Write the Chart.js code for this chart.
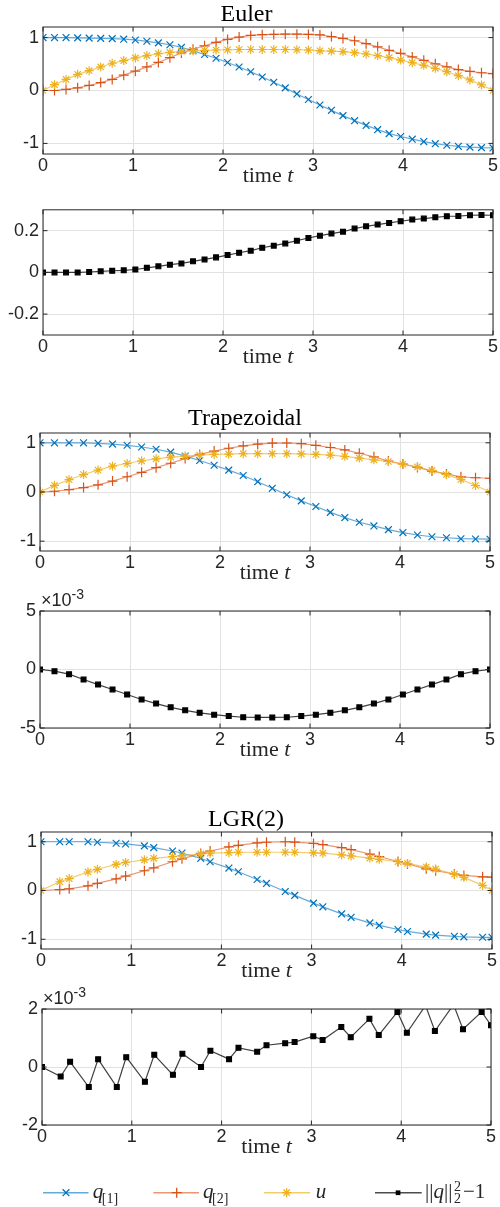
<!DOCTYPE html>
<html>
<head>
<meta charset="utf-8">
<title>Euler / Trapezoidal / LGR(2)</title>
<script src="https://cdn.jsdelivr.net/npm/chart.js@4.4.1/dist/chart.umd.min.js"></script>
<style>
  html,body{margin:0;padding:0;background:#fff;}
  #fig{position:relative;width:500px;height:1207px;overflow:hidden;}
  .pane{position:absolute;left:0;}
  #legend{position:absolute;left:0;top:1178px;}
  #legend text{fill:#262626;font-family:"Liberation Serif",serif;}
</style>
</head>
<body>
<div id="fig">
  <canvas id="euler" class="pane"></canvas>
  <canvas id="eulerErr" class="pane"></canvas>
  <canvas id="trap" class="pane"></canvas>
  <canvas id="trapErr" class="pane"></canvas>
  <canvas id="lgr" class="pane"></canvas>
  <canvas id="lgrErr" class="pane"></canvas>
  <svg id="legend" width="500" height="29">
    <line x1="43" y1="14.7" x2="88.5" y2="14.7" stroke="rgba(0,114,189,0.6)" stroke-width="1.4"/>
    <path d="M62.6 11.3L69.4 18.1M69.4 11.3L62.6 18.1" stroke="#0072BD" stroke-width="1.3"/>
    <text x="92.7" y="19.5" font-size="21" font-style="italic">q</text>
    <text x="101.8" y="24.5" font-size="14">[1]</text>

    <line x1="153.3" y1="14.7" x2="199" y2="14.7" stroke="rgba(217,83,25,0.6)" stroke-width="1.4"/>
    <path d="M176.7 9.7V19.7M171.7 14.7H181.7" stroke="#D95319" stroke-width="1.3"/>
    <text x="203" y="19.5" font-size="21" font-style="italic">q</text>
    <text x="212.1" y="24.5" font-size="14">[2]</text>

    <line x1="264" y1="14.7" x2="310" y2="14.7" stroke="rgba(237,177,32,0.65)" stroke-width="1.4"/>
    <path d="M286.7 10.2V19.2M282.2 14.7H291.2M283.5 11.5L289.9 17.9M289.9 11.5L283.5 17.9" stroke="#EDB120" stroke-width="1.3"/>
    <text x="315.7" y="19.5" font-size="21" font-style="italic">u</text>

    <line x1="375" y1="14.7" x2="421.7" y2="14.7" stroke="rgba(0,0,0,0.7)" stroke-width="1.4"/>
    <rect x="395.7" y="12.4" width="4.7" height="4.7" fill="#000"/>
    <text x="425" y="19.5" font-size="21">||<tspan font-style="italic">q</tspan>||</text>
    <text x="454" y="12.5" font-size="14">2</text>
    <text x="454" y="24.5" font-size="14">2</text>
    <text x="463" y="19.5" font-size="21">&#8722;1</text>
  </svg>
</div>
<script>
// ---- values ----
const xTicks = [0, 1, 2, 3, 4, 5];
const stateTicks = [-1, 0, 1];
const eulerErrTicks = [-0.2, 0, 0.2];
const trapErrTicks = [-5e-3, 0, 5e-3];
const lgrErrTicks = [-2e-3, 0, 2e-3];

// Euler, 40 grid points
const tEuler = [0, 0.128, 0.256, 0.385, 0.513, 0.641, 0.769, 0.897, 1.026, 1.154,
  1.282, 1.41, 1.538, 1.667, 1.795, 1.923, 2.051, 2.179, 2.308, 2.436,
  2.564, 2.692, 2.821, 2.949, 3.077, 3.205, 3.333, 3.462, 3.59, 3.718,
  3.846, 3.974, 4.103, 4.231, 4.359, 4.487, 4.615, 4.744, 4.872, 5];
const q1Euler = [1, 1, 1, 0.995, 0.99, 0.985, 0.98, 0.97, 0.955, 0.93,
  0.9, 0.865, 0.815, 0.75, 0.68, 0.61, 0.53, 0.445, 0.355, 0.255,
  0.155, 0.05, -0.065, -0.17, -0.275, -0.375, -0.475, -0.57, -0.66, -0.74,
  -0.815, -0.87, -0.92, -0.965, -1.005, -1.035, -1.055, -1.07, -1.08, -1.085];
const q2Euler = [0, 0, 0.02, 0.05, 0.095, 0.15, 0.21, 0.29, 0.365, 0.445,
  0.53, 0.62, 0.71, 0.78, 0.845, 0.91, 0.965, 1.01, 1.04, 1.055,
  1.06, 1.065, 1.065, 1.06, 1.05, 1.02, 0.985, 0.94, 0.885, 0.825,
  0.76, 0.7, 0.635, 0.57, 0.505, 0.445, 0.395, 0.36, 0.335, 0.32];
const uEuler = [0, 0.11, 0.21, 0.305, 0.375, 0.445, 0.515, 0.565, 0.615, 0.66,
  0.695, 0.72, 0.74, 0.75, 0.76, 0.765, 0.77, 0.775, 0.775, 0.775,
  0.775, 0.775, 0.77, 0.765, 0.75, 0.745, 0.735, 0.715, 0.69, 0.66,
  0.62, 0.575, 0.525, 0.475, 0.42, 0.355, 0.28, 0.2, 0.105, 0];
const errEuler = [0, 0, 0, 0, 0.002, 0.005, 0.008, 0.01, 0.014, 0.022,
  0.029, 0.037, 0.043, 0.053, 0.062, 0.072, 0.083, 0.094, 0.104, 0.118,
  0.128, 0.139, 0.152, 0.165, 0.176, 0.186, 0.195, 0.21, 0.221, 0.229,
  0.237, 0.245, 0.253, 0.258, 0.264, 0.269, 0.27, 0.274, 0.275, 0.274];

// Trapezoidal, 32 grid points
const tTrap = [0, 0.161, 0.323, 0.484, 0.645, 0.806, 0.968, 1.129, 1.29, 1.452,
  1.613, 1.774, 1.935, 2.097, 2.258, 2.419, 2.581, 2.742, 2.903, 3.065,
  3.226, 3.387, 3.548, 3.71, 3.871, 4.032, 4.194, 4.355, 4.516, 4.677,
  4.839, 5];
const q1Trap = [1, 1, 1, 1, 0.99, 0.975, 0.95, 0.915, 0.87, 0.81,
  0.73, 0.64, 0.545, 0.445, 0.335, 0.21, 0.075, -0.055, -0.18, -0.295,
  -0.415, -0.52, -0.615, -0.69, -0.765, -0.825, -0.875, -0.91, -0.93, -0.95,
  -0.955, -0.96];
const q2Trap = [0, 0.015, 0.05, 0.09, 0.145, 0.222, 0.31, 0.4, 0.495, 0.585,
  0.68, 0.765, 0.832, 0.89, 0.938, 0.975, 0.995, 0.997, 0.982, 0.95,
  0.905, 0.855, 0.788, 0.715, 0.63, 0.57, 0.5, 0.425, 0.368, 0.308,
  0.29, 0.28];
const uTrap = [0, 0.135, 0.25, 0.355, 0.445, 0.525, 0.58, 0.635, 0.675, 0.71,
  0.73, 0.75, 0.765, 0.77, 0.78, 0.78, 0.78, 0.78, 0.775, 0.765,
  0.75, 0.725, 0.69, 0.655, 0.62, 0.567, 0.512, 0.438, 0.352, 0.256,
  0.132, 0];
const errTrap = [0, -0.14e-3, -0.4e-3, -0.86e-3, -1.29e-3, -1.71e-3, -2.14e-3, -2.56e-3, -2.91e-3, -3.23e-3,
  -3.49e-3, -3.7e-3, -3.86e-3, -3.98e-3, -4.08e-3, -4.1e-3, -4.1e-3, -4.08e-3, -3.98e-3, -3.86e-3,
  -3.7e-3, -3.49e-3, -3.23e-3, -2.91e-3, -2.56e-3, -2.14e-3, -1.71e-3, -1.29e-3, -0.86e-3, -0.4e-3,
  -0.14e-3, 0];

// LGR(2), 16 intervals, 33 points
const tLgr = [0, 0.208, 0.313, 0.521, 0.625, 0.833, 0.938, 1.146, 1.25, 1.458,
  1.563, 1.771, 1.875, 2.083, 2.188, 2.396, 2.5, 2.708, 2.813, 3.021,
  3.125, 3.333, 3.438, 3.646, 3.75, 3.958, 4.063, 4.271, 4.375, 4.583,
  4.688, 4.896, 5];
const q1Lgr = [1, 1, 1, 1, 0.99, 0.97, 0.955, 0.915, 0.88, 0.81,
  0.77, 0.66, 0.59, 0.46, 0.385, 0.225, 0.145, -0.02, -0.1, -0.26,
  -0.335, -0.48, -0.55, -0.665, -0.715, -0.8, -0.84, -0.895, -0.915, -0.94,
  -0.95, -0.96, -0.96];
const q2Lgr = [0, 0.02, 0.035, 0.095, 0.145, 0.24, 0.295, 0.405, 0.465, 0.59,
  0.65, 0.76, 0.81, 0.893, 0.926, 0.977, 0.99, 1, 0.992, 0.965,
  0.94, 0.878, 0.838, 0.748, 0.697, 0.595, 0.544, 0.445, 0.405, 0.338,
  0.31, 0.28, 0.275];
const uLgr = [0, 0.18, 0.245, 0.38, 0.435, 0.535, 0.575, 0.63, 0.66, 0.695,
  0.715, 0.75, 0.765, 0.775, 0.785, 0.785, 0.785, 0.785, 0.785, 0.77,
  0.765, 0.73, 0.71, 0.665, 0.64, 0.59, 0.555, 0.48, 0.44, 0.335,
  0.27, 0.105, 0];
const errLgr = [0, -0.33e-3, 0.18e-3, -0.69e-3, 0.27e-3, -0.69e-3, 0.34e-3, -0.51e-3, 0.42e-3, -0.27e-3,
  0.46e-3, 0, 0.56e-3, 0.27e-3, 0.66e-3, 0.53e-3, 0.75e-3, 0.82e-3, 0.86e-3, 1.06e-3,
  0.93e-3, 1.38e-3, 1.03e-3, 1.66e-3, 1.1e-3, 1.9e-3, 1.18e-3, 2.12e-3, 1.24e-3, 2.15e-3,
  1.3e-3, 1.9e-3, 1.44e-3];

// ---- styling ----
const BLUE = '#0072BD', RED = '#D95319', YEL = '#EDB120';
const BLUE_L = 'rgba(0,114,189,0.6)', RED_L = 'rgba(217,83,25,0.6)', YEL_L = 'rgba(237,177,32,0.65)';
const AX = '#262626';
const SANS = '"Liberation Sans", Arial, sans-serif';
const SERIF = '"Liberation Serif", "Times New Roman", serif';

// box, inner ticks, "time t" label and the x10^-3 exponent (MATLAB look)
const framePlugin = {
  id: 'frame',
  afterDatasetsDraw(chart, args, opts) {
    const { ctx, chartArea: a, scales: { x, y } } = chart;
    ctx.save();
    ctx.strokeStyle = AX; ctx.lineWidth = 1;
    ctx.beginPath();
    x.ticks.forEach(tk => {
      const p = x.getPixelForValue(tk.value);
      ctx.moveTo(p, a.bottom); ctx.lineTo(p, a.bottom - 4.5);
      ctx.moveTo(p, a.top); ctx.lineTo(p, a.top + 4.5);
    });
    y.ticks.forEach(tk => {
      const p = y.getPixelForValue(tk.value);
      ctx.moveTo(a.left, p); ctx.lineTo(a.left + 4.5, p);
      ctx.moveTo(a.right, p); ctx.lineTo(a.right - 4.5, p);
    });
    ctx.stroke();
    ctx.strokeRect(a.left, a.top, a.width, a.height);

    ctx.fillStyle = AX; ctx.textBaseline = 'alphabetic'; ctx.textAlign = 'left';
    ctx.font = '22px ' + SERIF;
    const w1 = ctx.measureText('time ').width;
    ctx.font = 'italic 22px ' + SERIF;
    const w2 = ctx.measureText('t').width;
    const x0 = (a.left + a.right) / 2 - (w1 + w2) / 2, yb = a.bottom + 28;
    ctx.font = '22px ' + SERIF; ctx.fillText('time ', x0, yb);
    ctx.font = 'italic 22px ' + SERIF; ctx.fillText('t', x0 + w1, yb);

    if (opts.expo) {
      ctx.font = '18px ' + SANS;
      ctx.fillText('\u00d710', a.left + 1, a.top - 5);
      const w = ctx.measureText('\u00d710').width;
      ctx.font = '14px ' + SANS;
      ctx.fillText('-3', a.left + 1 + w, a.top - 12);
    }
    ctx.restore();
  }
};

function series(t, ys, color, lineColor, style, r, order, yMax) {
  return {
    data: t.map((x, i) => ({ x, y: ys[i] })),
    borderColor: lineColor, borderWidth: 1.2, tension: 0,
    pointStyle: style,
    pointRadius: c => (c.raw && c.raw.y > yMax ? 0 : r),
    pointBorderColor: color, pointBackgroundColor: color, pointBorderWidth: 1.2,
    order
  };
}

function stateSets(t, q1, q2, u) {
  return [
    series(t, q1, BLUE, BLUE_L, 'crossRot', 4.8, 3, 9),
    series(t, q2, RED, RED_L, 'cross', 5, 2, 9),
    series(t, u, YEL, YEL_L, 'star', 4.5, 1, 9)
  ];
}

function errSet(t, e, yMax) {
  return [series(t, e, '#000', 'rgba(0,0,0,0.75)', 'rect', 3.4, 1, yMax)];
}

function pane(p) {
  const cv = document.getElementById(p.id);
  cv.width = 500; cv.height = p.height; cv.style.top = p.top + 'px';
  new Chart(cv, {
    type: 'line',
    data: { datasets: p.datasets },
    options: {
      responsive: false, animation: false, events: [],
      layout: { padding: { left: 0, right: 500 - p.R, top: p.padTop, bottom: 0 } },
      plugins: {
        legend: { display: false }, tooltip: { enabled: false },
        title: p.title ? {
          display: true, text: p.title, color: '#000',
          font: { family: SERIF, size: 24, weight: 'normal', lineHeight: 1 },
          padding: p.titlePad
        } : { display: false },
        frame: { expo: p.expo }
      },
      scales: {
        x: {
          type: 'linear', min: 0, max: 5,
          afterBuildTicks: s => { s.ticks = xTicks.map(v => ({ value: v })); },
          afterFit: s => { s.height = 40; },
          grid: { color: '#e2e2e2', lineWidth: 1, drawTicks: false },
          border: { display: false },
          ticks: { color: AX, font: { family: SANS, size: 18 }, padding: 1, maxRotation: 0, autoSkip: false,
                   callback: v => String(v) }
        },
        y: {
          type: 'linear', min: p.yMin, max: p.yMax,
          afterBuildTicks: s => { s.ticks = p.yTicks.map(v => ({ value: v })); },
          afterFit: s => { s.width = p.L; },
          grid: { color: '#e2e2e2', lineWidth: 1, drawTicks: false },
          border: { display: false },
          ticks: { color: AX, font: { family: SANS, size: 18 }, padding: 4, autoSkip: false,
                   callback: p.fmt }
        }
      }
    },
    plugins: [framePlugin]
  });
}

const fmtState = v => String(v);
const fmtEuler = v => (v === 0 ? '0' : v.toFixed(1));
const fmtExp = v => String(Math.round(v * 1e3));

pane({ id: 'euler', top: 0, height: 194, L: 43, R: 493, padTop: 0, title: 'Euler', titlePad: { top: 3, bottom: 0 },
       yMin: -1.2, yMax: 1.2, yTicks: stateTicks, fmt: fmtState,
       datasets: stateSets(tEuler, q1Euler, q2Euler, uEuler) });
pane({ id: 'eulerErr', top: 195, height: 180, L: 43, R: 493, padTop: 14,
       yMin: -0.3, yMax: 0.3, yTicks: eulerErrTicks, fmt: fmtEuler,
       datasets: errSet(tEuler, errEuler, 0.3) });
pane({ id: 'trap', top: 405, height: 186, L: 40, R: 490, padTop: 0, title: 'Trapezoidal', titlePad: { top: 2, bottom: 2 },
       yMin: -1.2, yMax: 1.2, yTicks: stateTicks, fmt: fmtState,
       datasets: stateSets(tTrap, q1Trap, q2Trap, uTrap) });
pane({ id: 'trapErr', top: 585, height: 183, L: 40, R: 490, padTop: 26, expo: true,
       yMin: -5e-3, yMax: 5e-3, yTicks: trapErrTicks, fmt: fmtExp,
       datasets: errSet(tTrap, errTrap, 5e-3) });
pane({ id: 'lgr', top: 806, height: 183, L: 41, R: 492, padTop: 0, title: 'LGR(2)', titlePad: { top: 2, bottom: 0 },
       yMin: -1.2, yMax: 1.2, yTicks: stateTicks, fmt: fmtState,
       datasets: stateSets(tLgr, q1Lgr, q2Lgr, uLgr) });
pane({ id: 'lgrErr', top: 983, height: 182, L: 42, R: 491, padTop: 26, expo: true,
       yMin: -2e-3, yMax: 2e-3, yTicks: lgrErrTicks, fmt: fmtExp,
       datasets: errSet(tLgr, errLgr, 2e-3) });
</script>
</body>
</html>
